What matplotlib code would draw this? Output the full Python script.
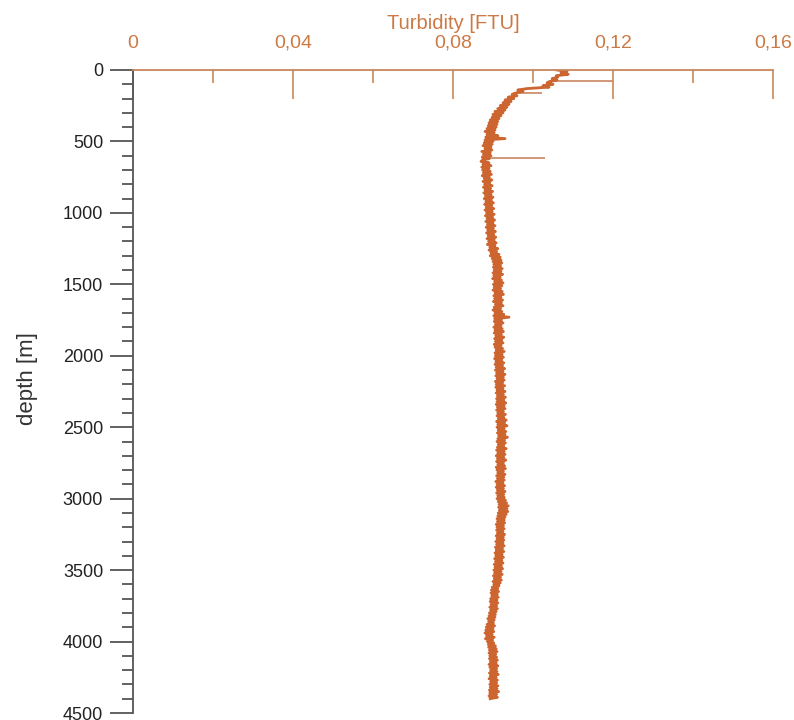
import numpy as np
import matplotlib
matplotlib.use("Agg")
import matplotlib.pyplot as plt

plt.rcParams['font.family'] = ['Liberation Sans', 'DejaVu Sans']

turbidity = [
    0.1060, 0.1085, 0.1070, 0.1088, 0.1058, 0.1062, 0.1048, 0.1060, 0.1042, 0.1035, 0.1050,
    0.1025, 0.1040, 0.0985, 0.0962, 0.0975, 0.0958, 0.0948, 0.0960, 0.0938, 0.0952,
    0.0930, 0.0945, 0.0925, 0.0940, 0.0918, 0.0935, 0.0912, 0.0930, 0.0905, 0.0925,
    0.0900, 0.0920, 0.0898, 0.0915, 0.0893, 0.0912, 0.0890, 0.0910, 0.0888, 0.0908,
    0.0885, 0.0905, 0.0880, 0.0903, 0.0885, 0.0912, 0.0882, 0.0930, 0.0880, 0.0900,
    0.0878, 0.0898, 0.0875, 0.0895, 0.0880, 0.0897, 0.0872, 0.0893, 0.0876, 0.0895,
    0.0873, 0.0891, 0.0874, 0.0870, 0.0890, 0.0875, 0.0895, 0.0872, 0.0890, 0.0874,
    0.0893, 0.0876, 0.0896, 0.0873, 0.0891, 0.0878, 0.0897, 0.0875, 0.0892, 0.0879,
    0.0898, 0.0876, 0.0894, 0.0880, 0.0899, 0.0877, 0.0895, 0.0881, 0.0900, 0.0878,
    0.0896, 0.0882, 0.0901, 0.0879, 0.0897, 0.0883, 0.0902, 0.0880, 0.0898, 0.0884,
    0.0903, 0.0881, 0.0899, 0.0885, 0.0904, 0.0882, 0.0900, 0.0886, 0.0905, 0.0883,
    0.0901, 0.0887, 0.0906, 0.0884, 0.0902, 0.0888, 0.0907, 0.0885, 0.0903, 0.0889,
    0.0908, 0.0886, 0.0905, 0.0892, 0.0912, 0.0890, 0.0909, 0.0895, 0.0915, 0.0893,
    0.0918, 0.0898, 0.0920, 0.0900, 0.0922, 0.0902, 0.0919, 0.0901, 0.0923, 0.0903,
    0.0920, 0.0900, 0.0924, 0.0902, 0.0918, 0.0899, 0.0921, 0.0904, 0.0925, 0.0901,
    0.0922, 0.0903, 0.0919, 0.0900, 0.0923, 0.0905, 0.0926, 0.0902, 0.0920, 0.0904,
    0.0924, 0.0901, 0.0921, 0.0906, 0.0925, 0.0903, 0.0919, 0.0900, 0.0922, 0.0905,
    0.0927, 0.0902, 0.0940, 0.0904, 0.0921, 0.0903, 0.0925, 0.0906, 0.0920, 0.0902,
    0.0923, 0.0905, 0.0926, 0.0903, 0.0921, 0.0907, 0.0927, 0.0904, 0.0922, 0.0906,
    0.0925, 0.0903, 0.0920, 0.0905, 0.0924, 0.0908, 0.0928, 0.0905, 0.0923, 0.0906,
    0.0926, 0.0904, 0.0922, 0.0907, 0.0927, 0.0905, 0.0924, 0.0908, 0.0929, 0.0906,
    0.0925, 0.0909, 0.0930, 0.0907, 0.0926, 0.0910, 0.0928, 0.0906, 0.0924, 0.0908,
    0.0929, 0.0907, 0.0925, 0.0910, 0.0930, 0.0908, 0.0926, 0.0911, 0.0931, 0.0909,
    0.0927, 0.0910, 0.0932, 0.0908, 0.0928, 0.0911, 0.0930, 0.0909, 0.0926, 0.0912,
    0.0931, 0.0910, 0.0927, 0.0913, 0.0933, 0.0909, 0.0929, 0.0912, 0.0935, 0.0910,
    0.0928, 0.0913, 0.0932, 0.0911, 0.0930, 0.0914, 0.0936, 0.0912, 0.0929, 0.0910,
    0.0931, 0.0913, 0.0927, 0.0911, 0.0933, 0.0909, 0.0928, 0.0912, 0.0930, 0.0908,
    0.0927, 0.0911, 0.0932, 0.0909, 0.0926, 0.0912, 0.0929, 0.0908, 0.0931, 0.0910,
    0.0926, 0.0912, 0.0930, 0.0909, 0.0927, 0.0911, 0.0928, 0.0907, 0.0925, 0.0910,
    0.0929, 0.0908, 0.0926, 0.0911, 0.0930, 0.0909, 0.0927, 0.0912, 0.0928, 0.0910,
    0.0931, 0.0913, 0.0934, 0.0915, 0.0938, 0.0914, 0.0935, 0.0916, 0.0937, 0.0913,
    0.0933, 0.0912, 0.0930, 0.0910, 0.0928, 0.0911, 0.0929, 0.0908, 0.0926, 0.0910,
    0.0928, 0.0909, 0.0925, 0.0911, 0.0929, 0.0908, 0.0926, 0.0910, 0.0927, 0.0907,
    0.0925, 0.0909, 0.0928, 0.0906, 0.0924, 0.0908, 0.0927, 0.0905, 0.0923, 0.0907,
    0.0926, 0.0904, 0.0922, 0.0906, 0.0925, 0.0903, 0.0921, 0.0905, 0.0924, 0.0902,
    0.0920, 0.0904, 0.0923, 0.0901, 0.0919, 0.0903, 0.0921, 0.0900, 0.0918, 0.0902,
    0.0915, 0.0898, 0.0912, 0.0896, 0.0914, 0.0895, 0.0911, 0.0897, 0.0913, 0.0894,
    0.0910, 0.0893, 0.0912, 0.0895, 0.0909, 0.0892, 0.0911, 0.0894, 0.0908, 0.0891,
    0.0906, 0.0890, 0.0905, 0.0887, 0.0903, 0.0889, 0.0901, 0.0885, 0.0904, 0.0883,
    0.0900, 0.0882, 0.0902, 0.0880, 0.0898, 0.0884, 0.0903, 0.0881, 0.0899, 0.0886,
    0.0902, 0.0888, 0.0906, 0.0889, 0.0908, 0.0891, 0.0910, 0.0890, 0.0907, 0.0892,
    0.0909, 0.0891, 0.0911, 0.0893, 0.0908, 0.0890, 0.0912, 0.0892, 0.0909, 0.0894,
    0.0910, 0.0891, 0.0913, 0.0893, 0.0908, 0.0890, 0.0911, 0.0894, 0.0909, 0.0892,
    0.0912, 0.0893, 0.0910, 0.0891, 0.0914, 0.0892, 0.0909, 0.0890, 0.0911, 0.0893,
]
depth_step = 10
depth = np.arange(len(turbidity)) * depth_step

# single-sample spikes (depth [m], trace value, spike value)
spike_depth = [78, 159, 614]
spike_from = [0.1045, 0.0962, 0.0890]
spike_to = [0.1200, 0.1023, 0.1030]

x_ticks = [0, 0.04, 0.08, 0.12, 0.16]
x_ticklabels = ["0", "0,04", "0,08", "0,12", "0,16"]
y_ticks = [0, 500, 1000, 1500, 2000, 2500, 3000, 3500, 4000, 4500]

line_color = '#cc6530'
spike_color = '#c98560'
axis_color = '#c8875a'
label_color = '#cc7a45'
left_color = '#555555'

fig = plt.figure(figsize=(7.94, 7.2), dpi=100)
ax = fig.add_axes([133/794, 1 - 713/720, 640/794, 643/720])

ax.hlines(spike_depth, spike_from, spike_to, color=spike_color, lw=1.2)
ax.plot(turbidity, depth, color=line_color, lw=2.0)

ax.set_xlim(0, 0.16)
ax.set_ylim(4500, 0)

ax.xaxis.tick_top()
ax.xaxis.set_label_position('top')
ax.set_xticks(x_ticks)
ax.set_xticklabels(x_ticklabels)
ax.set_xticks(np.arange(0.02, 0.16, 0.04), minor=True)
ax.tick_params(axis='x', which='major', direction='in', length=21, width=1.2,
               color=axis_color, labelcolor=label_color, labelsize=14, pad=13)
ax.tick_params(axis='x', which='minor', direction='in', length=9.5, width=1.2,
               color=axis_color)
ax.set_xlabel('Turbidity [FTU]', color=label_color, fontsize=14.5, labelpad=4)

ax.set_yticks(y_ticks)
ax.set_yticks(np.arange(0, 4501, 100), minor=True)
ax.tick_params(axis='y', which='major', direction='out', length=16.5, width=1.3,
               color=left_color, labelcolor='#222222', labelsize=13, pad=5)
ax.tick_params(axis='y', which='minor', direction='out', length=8, width=1.3,
               color=left_color)
ax.set_ylabel('depth [m]', fontsize=16, color='#333333')
ax.yaxis.set_label_coords(-0.148, 0.52)

ax.spines['right'].set_visible(False)
ax.spines['bottom'].set_visible(False)
ax.spines['top'].set_color(axis_color)
ax.spines['top'].set_linewidth(1.3)
ax.spines['left'].set_color(left_color)
ax.spines['left'].set_linewidth(1.3)

fig.savefig('out.png', dpi=100)
